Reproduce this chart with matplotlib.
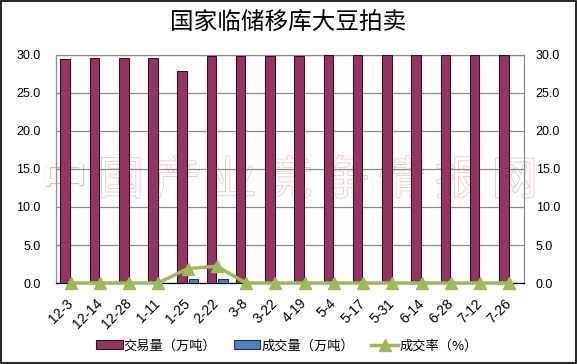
import matplotlib
matplotlib.use("Agg")
import matplotlib.pyplot as plt
import matplotlib.patheffects as pe
import numpy as np
from matplotlib.patches import Rectangle

plt.rcParams['font.family'] = ['Noto Sans CJK SC', 'DejaVu Sans']

categories = ["12-3", "12-14", "12-28", "1-11", "1-25", "2-22", "3-8", "3-22",
              "4-19", "5-4", "5-17", "5-31", "6-14", "6-28", "7-12", "7-26"]
trade_volume = [29.5, 29.6, 29.6, 29.6, 27.9, 29.9, 29.9, 29.9,
                29.9, 30.0, 30.0, 30.0, 30.0, 30.0, 30.0, 30.0]
deal_volume = [0, 0, 0, 0, 0.5, 0.5, 0, 0, 0, 0, 0, 0, 0, 0, 0, 0]
deal_rate = [0, 0, 0, 0, 1.9, 2.2, 0, 0, 0, 0, 0, 0, 0, 0, 0, 0]
yticks = [0, 5, 10, 15, 20, 25, 30]
title = "国家临储移库大豆拍卖"
legend_labels = ["交易量（万吨）", "成交量（万吨）", "成交率（%）"]
watermark = "中国产业竞争情报网"

num_font = ['Liberation Sans', 'DejaVu Sans']

fig = plt.figure(figsize=(5.77, 3.64), dpi=100)
fig.patches.append(Rectangle((0.002, 0.003), 0.996, 0.994, transform=fig.transFigure,
                             fill=False, edgecolor='black', linewidth=1.2))

ax = fig.add_axes([0.097, 0.2225, 0.811, 0.6265])
ax.set_facecolor('none')
x = np.arange(len(categories))
w = 0.33
b1 = ax.bar(x - 0.185, trade_volume, w, color='#943461', edgecolor='#3a1024',
            linewidth=0.8, label=legend_labels[0], zorder=3)
b2 = ax.bar(x + 0.2, deal_volume, w, color='#4F81BD', edgecolor='#1f3554',
            linewidth=0.8, label=legend_labels[1], zorder=3)
ax.set_xlim(-0.5, len(categories) - 0.5)
ax.set_ylim(0, 30)
ax.set_yticks(yticks)
ax.set_yticklabels([f"{v:.1f}" for v in yticks], fontsize=9, family=num_font)
ax.grid(axis='y', color='#8c8c8c', linewidth=0.9, zorder=0)
ax.set_axisbelow(True)
for s in ax.spines.values():
    s.set_color('#8c8c8c')
    s.set_linewidth(0.9)
ax.spines['bottom'].set_color('black')
ax.set_xticks(x)
ax.set_xticklabels(categories, rotation=45, ha='right', va='center',
                   rotation_mode='anchor', fontsize=10, family=num_font)
ax.tick_params(axis='y', length=0, pad=11)
ax.tick_params(axis='x', length=0, pad=13)

ax2 = ax.twinx()
ax2.set_facecolor('none')
ax2.set_ylim(0, 30)
ax2.set_yticks(yticks)
ax2.set_yticklabels([f"{v:.1f}" for v in yticks], fontsize=9, family=num_font)
ax2.tick_params(axis='y', length=0, pad=8.5)
for s in ax2.spines.values():
    s.set_visible(False)
l1, = ax2.plot(x, deal_rate, color='#9BBB59', linewidth=2.5, marker='^',
               markersize=8, markerfacecolor='#9BBB59', markeredgecolor='#9BBB59',
               label=legend_labels[2], zorder=5, clip_on=False)

# faint watermark behind the bars
for i, ch in enumerate(watermark):
    fig.text(0.112 + i * 0.0975, 0.503, ch, fontsize=33, color='white',
             ha='center', va='center', zorder=-1,
             path_effects=[pe.withStroke(linewidth=1.0, foreground='#e8bcbc')])

fig.text(0.5, 0.938, title, ha='center', va='center', fontsize=17)

fig.legend(handles=[b1, b2, l1], labels=legend_labels, loc='center',
           bbox_to_anchor=(0.497, 0.05), ncol=3, frameon=False, fontsize=9.5,
           handlelength=2.0, handletextpad=0.1, columnspacing=1.3,
           handleheight=0.6)

fig.savefig("out.png", dpi=100)
